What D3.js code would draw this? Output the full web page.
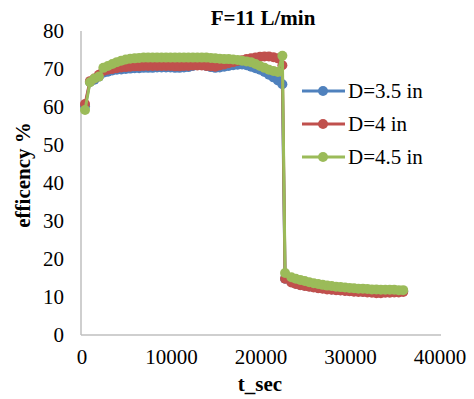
<!DOCTYPE html>
<html>
<head>
<meta charset="utf-8">
<script src="https://cdn.jsdelivr.net/npm/d3@7"></script>
<style>
  body { margin: 0; background: #fff; }
</style>
</head>
<body>
<svg id="chart" width="474" height="399" font-family="'Liberation Serif', 'Times New Roman', 'DejaVu Serif', serif"></svg>
<script>
// time in seconds (shared by all three series)
const tSec = [450,
    1000, 1500, 2000, 2500, 3000, 3500, 4000, 4500, 5000, 5500, 6000, 6500, 7000, 7500, 8000, 8500, 9000, 9500, 10000, 10500, 11000, 11500,
    12000, 12500, 13000, 13500, 14000, 14500, 15000, 15500, 16000, 16500, 17000, 17500, 18000, 18500, 19000, 19500, 20000, 20500, 21000, 21500, 22000, 22500,
    22800, 23500,
    24000, 24500, 25000, 25500, 26000, 26500, 27000, 27500, 28000, 28500, 29000, 29500, 30000, 30500, 31000, 31500, 32000, 32500, 33000, 33500, 34000, 34500, 35000, 35500, 36000]

const d35 = [60.2,
    66.6, 67.2, 68, 69, 69.3, 69.6, 69.8, 69.9, 70, 70.1, 70.2, 70.2, 70.3, 70.3, 70.3, 70.4, 70.4, 70.4, 70.4, 70.3, 70.3, 70.4,
    70.5, 70.8, 71.2, 71.1, 70.8, 70.5, 70.3, 70.4, 70.6, 70.8, 71, 71.1, 71.2, 71, 70.6, 70.2, 69.8, 69.2, 68.5, 67.8, 67, 66,
    14.8, 14,
    13.5, 13.2, 13, 12.8, 12.6, 12.4, 12.3, 12.1, 12.0, 11.9, 11.8, 11.7, 11.6, 11.5, 11.5, 11.4, 11.4, 11.3, 11.3, 11.3, 11.3, 11.3, 11.4, 11.4, 11.5]
const d4 = [60.8,
    66.8, 67.5, 68.5, 69.5, 69.8, 70, 70.2, 70.4, 70.5, 70.6, 70.7, 70.7, 70.8, 70.8, 70.8, 70.8, 70.8, 70.8, 70.8, 70.7, 70.7, 70.8,
    70.8, 70.9, 70.9, 70.9, 70.8, 70.7, 70.6, 70.9, 71.2, 71.5, 71.8, 72.1, 72.3, 72.6, 72.8, 73, 73.2, 73.3, 73.3, 73.1, 72.8, 71,
    14.8, 13.8,
    13.4, 13.1, 12.9, 12.7, 12.5, 12.3, 12.2, 12.0, 11.9, 11.8, 11.7, 11.6, 11.5, 11.4, 11.3, 11.3, 11.2, 11.1, 11.0, 11.0, 11.1, 11.1, 11.2, 11.2, 11.3]
const d45 = [59.2,
    66.5, 67.5, 68, 70.3, 70.8, 71.3, 71.8, 72.2, 72.5, 72.7, 72.8, 72.9, 73, 73, 73, 73, 73, 73, 73, 73, 73, 73,
    73, 73, 73, 73, 73, 72.9, 72.8, 72.7, 72.6, 72.6, 72.5, 72.4, 72.2, 72, 71.8, 71.3, 70.8, 70.3, 69.8, 69.5, 69.2, 73.5,
    16.3, 15.2,
    14.8, 14.5, 14.2, 13.9, 13.6, 13.4, 13.2, 13.0, 12.9, 12.7, 12.6, 12.5, 12.4, 12.3, 12.2, 12.2, 12.1, 12.0, 12.0, 11.9, 11.9, 11.9, 11.9, 11.8, 11.8]

const seriesNames = ["D=3.5 in", "D=4 in", "D=4.5 in"]
const seriesColors = ["#4F81BD", "#C0504D", "#9BBB59"]
const xTicks = [0, 10000, 20000, 30000, 40000]
const yTicks = [0, 10, 20, 30, 40, 50, 60, 70, 80]

var svg = d3.select("#chart")

var x = d3.scaleLinear().domain([0, 40000]).range([81, 439])
var y = d3.scaleLinear().domain([0, 80]).range([335, 31])

// axes (only the gray lines, no ticks)
svg.append("line").attr("x1", 81).attr("x2", 441).attr("y1", 335).attr("y2", 335)
    .attr("stroke", "#BFBFBF").attr("stroke-width", 1.5)
svg.append("line").attr("x1", 81).attr("x2", 81).attr("y1", 31).attr("y2", 335)
    .attr("stroke", "#BFBFBF").attr("stroke-width", 1.5)

svg.append("g").selectAll("text").data(yTicks).enter().append("text")
    .attr("x", 64).attr("y", d => y(d) + 7)
    .attr("text-anchor", "end").style("font-size", "21px")
    .text(d => d)

svg.append("g").selectAll("text").data(xTicks).enter().append("text")
    .attr("x", d => x(d) + 1).attr("y", 364)
    .attr("text-anchor", "middle").style("font-size", "21px")
    .text(d => d)

// series
const allSeries = [d35, d4, d45]
var line = d3.line().x(d => x(d[0])).y(d => y(d[1]))

allSeries.forEach((vals, i) => {
    let pts = tSec.map((t, j) => [t, vals[j]])
    let g = svg.append("g").attr("class", "series")
    g.append("path")
        .attr("d", line(pts))
        .attr("fill", "none")
        .attr("stroke", seriesColors[i])
        .attr("stroke-width", 3)
    g.selectAll("circle").data(pts).enter().append("circle")
        .attr("cx", d => x(d[0]))
        .attr("cy", d => y(d[1]))
        .attr("r", 5)
        .attr("fill", seriesColors[i])
})

// title and axis labels
svg.append("text").attr("x", 263).attr("y", 25).attr("text-anchor", "middle")
    .style("font-size", "21px").style("font-weight", "bold").text("F=11 L/min")
svg.append("text").attr("x", 260).attr("y", 391).attr("text-anchor", "middle")
    .style("font-size", "21px").style("font-weight", "bold").text("t_sec")
svg.append("text").attr("transform", "translate(30,175) rotate(-90)").attr("text-anchor", "middle")
    .style("font-size", "21px").style("font-weight", "bold").text("efficency %")

// legend
var legend = svg.append("g")
seriesNames.forEach((name, i) => {
    let ly = 91 + i * 33
    legend.append("line").attr("x1", 302).attr("x2", 345).attr("y1", ly).attr("y2", ly)
        .attr("stroke", seriesColors[i]).attr("stroke-width", 3)
    legend.append("circle").attr("cx", 323).attr("cy", ly).attr("r", 5).attr("fill", seriesColors[i])
    legend.append("text").attr("x", 348).attr("y", ly + 7).style("font-size", "21px").text(name)
})
</script>
</body>
</html>
